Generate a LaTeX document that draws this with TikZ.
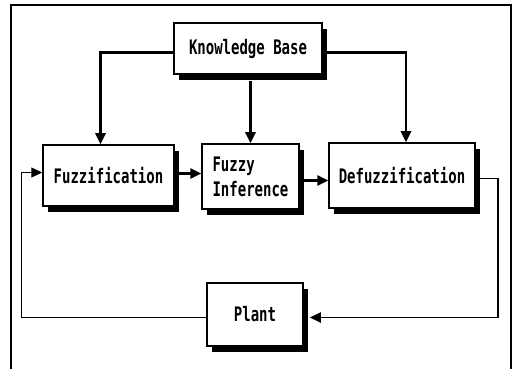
\documentclass[tikz,border=0pt]{standalone}
\usepackage{fontspec}
\setmainfont{DejaVu Sans Mono}[FakeStretch=0.7]
\usetikzlibrary{arrows.meta,shadows}

\tikzset{
    blockbox/.style={draw, line width=1.5pt, fill=white, inner sep=0pt, align=left,
        general shadow={fill=black, shadow xshift=5pt, shadow yshift=-6pt}},
    flow/.style={line width=2.6pt, -{Triangle[length=11pt,width=10pt]}},
    loop/.style={line width=1.1pt, -{Triangle[length=11pt,width=10pt]}}
}

\begin{document}
\begin{tikzpicture}[x=1pt,y=1pt,font=\fontsize{20}{25}\selectfont\bfseries]
    \useasboundingbox (0,0) rectangle (512,-369);
    % Frame
    \draw[line width=1.1pt] (11,-369) -- (11,-5) -- (511,-5) -- (511,-369);
    % Knowledge base
    \node[blockbox, minimum width=148pt, minimum height=51pt] (KB) at (248,-48.5) {Knowledge Base};
    % Middle row
    \foreach \name/\x/\y/\w/\h/\txt in {Fuzz/108.5/-175.5/131/61/Fuzzification,
        Infer/250.5/-176.5/97/65/{Fuzzy\\Inference},
        Defuzz/402/-175.5/146/65/Defuzzification} {
        \node[blockbox, minimum width=\w pt, minimum height=\h pt] (\name) at (\x,\y) {\txt};
    }
    % Plant
    \node[blockbox, minimum width=96pt, minimum height=63pt] (Plant) at (255,-314.5) {Plant};
    % Arrows
    \draw[flow] ([yshift=-4pt]KB.west) -| ([xshift=-8pt]Fuzz.north);
    \draw[flow] ([yshift=-6pt]KB.south -| Infer.north) -- (Infer.north);
    \draw[flow] ([yshift=-4pt]KB.east) -| ([xshift=4pt]Defuzz.north);
    \draw[flow] ([yshift=2pt]Fuzz.east) -- ([yshift=2pt]Fuzz.east -| Infer.west);
    \draw[flow] ([yshift=-4pt]Infer.east) -- ([yshift=-4pt]Infer.east -| Defuzz.west);
    \draw[loop, line width=1.8pt] ([yshift=-3pt]Defuzz.east) -- ++(22,0) |- ([xshift=6pt,yshift=-3pt]Plant.east);
    \draw[loop] ([yshift=-3pt]Plant.west) -- ++(-185,0) |- ([yshift=3pt]Fuzz.west);
\end{tikzpicture}
\end{document}
